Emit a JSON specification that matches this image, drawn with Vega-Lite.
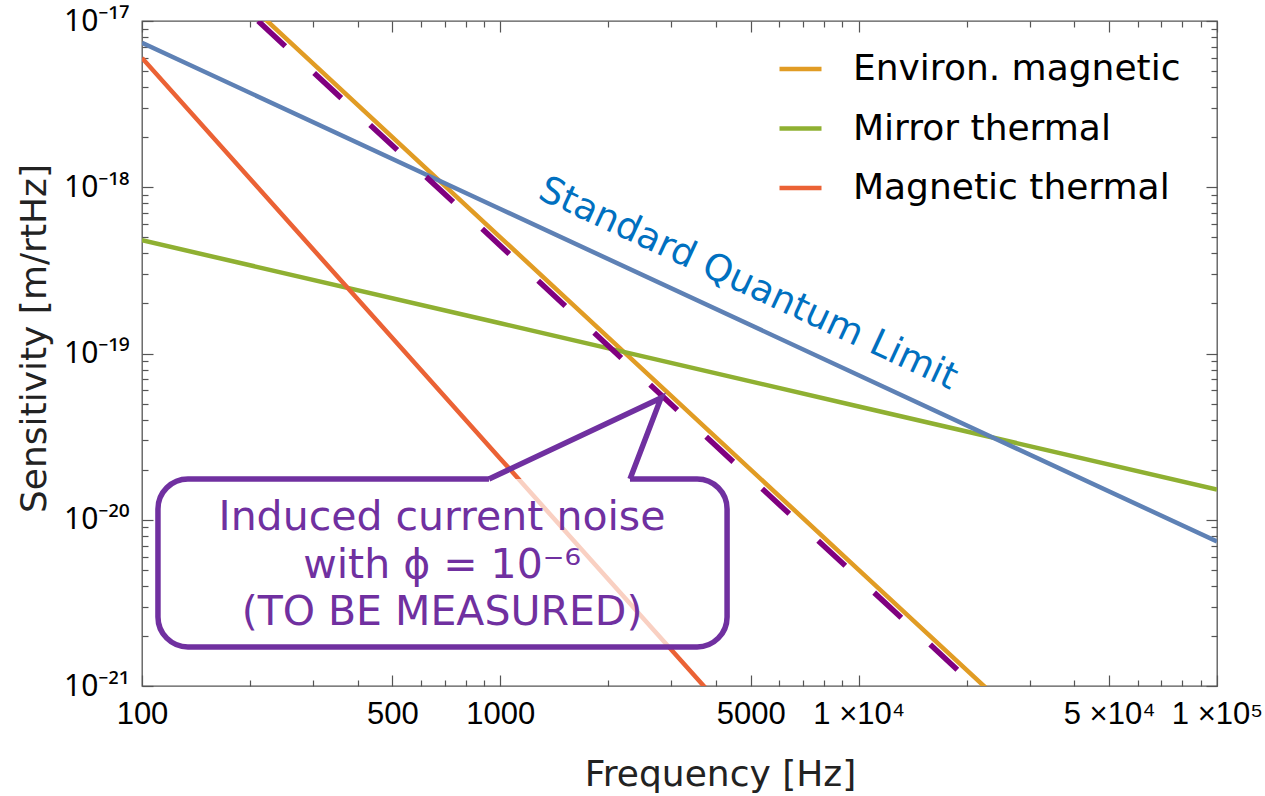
{
  "$schema": "https://vega.github.io/schema/vega-lite/v6.json",
  "width": 1075,
  "height": 665,
  "autosize": {"type": "none"},
  "padding": {"left": 142, "top": 21, "right": 48, "bottom": 110},
  "background": "white",
  "config": {
    "view": {"stroke": "#555555", "strokeWidth": 1.3},
    "axis": {
      "grid": false,
      "domain": false,
      "tickColor": "#555555",
      "tickWidth": 1.2,
      "labelFont": "Liberation Sans",
      "labelFontSize": 31,
      "labelColor": "#000000",
      "titleFont": "DejaVu Sans",
      "titleFontSize": 36,
      "titleFontWeight": "normal",
      "titleColor": "#222222",
      "labelFlush": false,
      "labelOverlap": false
    }
  },
  "datasets": {
    "main": [
      {"series": "Environ. magnetic", "f": 100, "s": 5e-17},
      {"series": "Environ. magnetic", "f": 1000, "s": 5e-19},
      {"series": "Environ. magnetic", "f": 10000, "s": 5e-21},
      {"series": "Environ. magnetic", "f": 100000, "s": 5e-23},
      {"series": "Mirror thermal", "f": 100, "s": 4.8e-19},
      {"series": "Mirror thermal", "f": 1000, "s": 1.52e-19},
      {"series": "Mirror thermal", "f": 10000, "s": 4.8e-20},
      {"series": "Mirror thermal", "f": 100000, "s": 1.52e-20},
      {"series": "Magnetic thermal", "f": 100, "s": 6e-18},
      {"series": "Magnetic thermal", "f": 1000, "s": 2.33e-20},
      {"series": "Magnetic thermal", "f": 10000, "s": 9.1e-23},
      {"series": "Magnetic thermal", "f": 100000, "s": 3.5e-25}
    ],
    "sql": [
      {"f": 100, "s": 7.4e-18},
      {"f": 1000, "s": 7.4e-19},
      {"f": 10000, "s": 7.4e-20},
      {"f": 100000, "s": 7.4e-21}
    ],
    "induced": [
      {"f": 210.9, "s": 1e-17},
      {"f": 1000, "s": 4.45e-19},
      {"f": 10000, "s": 4.45e-21},
      {"f": 21095, "s": 1e-21}
    ],
    "box": [
      {"x1": 110.8, "x2": 4293, "y1": 1.758e-20, "y2": 1.718e-21}
    ],
    "pointer": [
      {"i": 1, "f": 929.8, "s": 1.758e-20},
      {"i": 2, "f": 2808, "s": 5.4e-20},
      {"i": 3, "f": 2301, "s": 1.758e-20}
    ],
    "callout": [
      {"line": "Induced current noise", "f": 687.4, "s": 1.02e-20},
      {"line": "with ϕ = 10⁻⁶", "f": 687.4, "s": 5.3e-21},
      {"line": "(TO BE MEASURED)", "f": 687.4, "s": 2.75e-21}
    ],
    "sqltext": [
      {"label": "Standard Quantum Limit", "f": 4912, "s": 2.62e-19}
    ]
  },
  "resolve": {"axis": {"x": "independent", "y": "independent"}},
  "layer": [
    {
      "data": {"name": "main"},
      "mark": {"type": "line", "clip": true, "strokeWidth": 4.5},
      "encoding": {
        "x": {
          "field": "f", "type": "quantitative",
          "scale": {"type": "log", "domain": [100, 100000], "nice": false},
          "axis": {
            "orient": "bottom",
            "values": [100, 500, 1000, 5000, 10000, 50000, 100000],
            "tickSize": -11,
            "labelPadding": 24,
            "labelExpr": "datum.value < 200 ? '100' : datum.value < 700 ? '500' : datum.value < 2000 ? '1000' : datum.value < 7000 ? '5000' : datum.value < 20000 ? '1 ×10⁴' : datum.value < 70000 ? '5 ×10⁴' : '1 ×10⁵'",
            "title": "Frequency [Hz]",
            "titleX": 578,
            "titleY": 99,
            "titleBaseline": "alphabetic",
            "titleAnchor": "middle"
          }
        },
        "y": {
          "field": "s", "type": "quantitative",
          "scale": {"type": "log", "domain": [1e-21, 1e-17], "nice": false},
          "axis": {
            "orient": "left",
            "values": [1e-21, 1e-20, 1e-19, 1e-18, 1e-17],
            "tickSize": -11,
            "labelPadding": 24,
            "labelFont": "Noto Sans",
            "labelFontSize": 30,
            "labelExpr": "datum.value < 5e-21 ? '10⁻²¹' : datum.value < 5e-20 ? '10⁻²⁰' : datum.value < 5e-19 ? '10⁻¹⁹' : datum.value < 5e-18 ? '10⁻¹⁸' : '10⁻¹⁷'",
            "title": "Sensitivity [m/rtHz]",
            "titleX": -97,
            "titleY": 317,
            "titleAngle": -90,
            "titleBaseline": "alphabetic",
            "titleAnchor": "middle"
          }
        },
        "color": {
          "field": "series", "type": "nominal",
          "scale": {
            "domain": ["Environ. magnetic", "Mirror thermal", "Magnetic thermal"],
            "range": ["#E19C24", "#8FB032", "#EB6235"]
          },
          "legend": {
            "orient": "none",
            "direction": "vertical",
            "legendX": 635,
            "legendY": 24.5,
            "title": null,
            "padding": 0,
            "symbolType": "stroke",
            "symbolSize": 1764,
            "symbolStrokeWidth": 4.5,
            "labelFont": "DejaVu Sans",
            "labelFontSize": 36,
            "labelColor": "#000000",
            "labelOffset": 29,
            "labelLimit": 0,
            "rowPadding": 17.5
          }
        }
      }
    },
    {
      "data": {"name": "sql"},
      "mark": {"type": "line", "clip": true, "strokeWidth": 4.5, "color": "#5E81B5"},
      "encoding": {
        "x": {
          "field": "f", "type": "quantitative",
          "scale": {"type": "log", "domain": [100, 100000], "nice": false},
          "axis": {
            "orient": "bottom",
            "values": [200, 300, 400, 600, 700, 800, 900, 2000, 3000, 4000, 6000, 7000, 8000, 9000, 20000, 30000, 40000, 60000, 70000, 80000, 90000],
            "tickSize": -6, "labels": false, "title": null
          }
        },
        "y": {
          "field": "s", "type": "quantitative",
          "scale": {"type": "log", "domain": [1e-21, 1e-17], "nice": false},
          "axis": {
            "orient": "left",
            "values": [2e-21, 3e-21, 4e-21, 5e-21, 6e-21, 7e-21, 8e-21, 9e-21, 2e-20, 3e-20, 4e-20, 5e-20, 6e-20, 7e-20, 8e-20, 9e-20, 2e-19, 3e-19, 4e-19, 5e-19, 6e-19, 7e-19, 8e-19, 9e-19, 2e-18, 3e-18, 4e-18, 5e-18, 6e-18, 7e-18, 8e-18, 9e-18],
            "tickSize": -6, "labels": false, "title": null
          }
        }
      }
    },
    {
      "data": {"name": "induced"},
      "mark": {"type": "line", "clip": true, "strokeWidth": 5.5, "color": "#800080", "strokeDash": [37, 39.4], "strokeCap": "butt"},
      "encoding": {
        "x": {
          "field": "f", "type": "quantitative",
          "scale": {"type": "log", "domain": [100, 100000], "nice": false},
          "axis": {
            "orient": "top",
            "values": [100, 500, 1000, 5000, 10000, 50000, 100000],
            "tickSize": -11, "labels": false, "title": null
          }
        },
        "y": {
          "field": "s", "type": "quantitative",
          "scale": {"type": "log", "domain": [1e-21, 1e-17], "nice": false},
          "axis": {
            "orient": "right",
            "values": [1e-21, 1e-20, 1e-19, 1e-18, 1e-17],
            "tickSize": -11, "labels": false, "title": null
          }
        }
      }
    },
    {
      "data": {"name": "box"},
      "mark": {"type": "rect", "cornerRadius": 30, "fill": "#FFFFFF", "fillOpacity": 0.7, "stroke": "#7030A0", "strokeWidth": 5.5, "strokeDash": [301, 141, 3000]},
      "encoding": {
        "x": {
          "field": "x1", "type": "quantitative",
          "scale": {"type": "log", "domain": [100, 100000], "nice": false},
          "axis": {
            "orient": "top",
            "values": [200, 300, 400, 600, 700, 800, 900, 2000, 3000, 4000, 6000, 7000, 8000, 9000, 20000, 30000, 40000, 60000, 70000, 80000, 90000],
            "tickSize": -6, "labels": false, "title": null
          }
        },
        "x2": {"field": "x2"},
        "y": {
          "field": "y1", "type": "quantitative",
          "scale": {"type": "log", "domain": [1e-21, 1e-17], "nice": false},
          "axis": {
            "orient": "right",
            "values": [2e-21, 3e-21, 4e-21, 5e-21, 6e-21, 7e-21, 8e-21, 9e-21, 2e-20, 3e-20, 4e-20, 5e-20, 6e-20, 7e-20, 8e-20, 9e-20, 2e-19, 3e-19, 4e-19, 5e-19, 6e-19, 7e-19, 8e-19, 9e-19, 2e-18, 3e-18, 4e-18, 5e-18, 6e-18, 7e-18, 8e-18, 9e-18],
            "tickSize": -6, "labels": false, "title": null
          }
        },
        "y2": {"field": "y2"}
      }
    },
    {
      "data": {"name": "pointer"},
      "mark": {"type": "line", "strokeWidth": 5.5, "color": "#7030A0", "strokeJoin": "miter", "strokeCap": "butt"},
      "encoding": {
        "x": {"field": "f", "type": "quantitative", "scale": {"type": "log", "domain": [100, 100000], "nice": false}, "axis": null},
        "y": {"field": "s", "type": "quantitative", "scale": {"type": "log", "domain": [1e-21, 1e-17], "nice": false}, "axis": null},
        "order": {"field": "i", "type": "quantitative"}
      }
    },
    {
      "data": {"name": "callout"},
      "mark": {"type": "text", "font": "DejaVu Sans", "fontSize": 41, "color": "#7030A0", "align": "center", "baseline": "middle"},
      "encoding": {
        "x": {"field": "f", "type": "quantitative", "scale": {"type": "log", "domain": [100, 100000], "nice": false}, "axis": null},
        "y": {"field": "s", "type": "quantitative", "scale": {"type": "log", "domain": [1e-21, 1e-17], "nice": false}, "axis": null},
        "text": {"field": "line", "type": "nominal"}
      }
    },
    {
      "data": {"name": "sqltext"},
      "mark": {"type": "text", "font": "DejaVu Sans", "fontSize": 37, "color": "#0070C0", "align": "center", "baseline": "middle", "angle": 24.9},
      "encoding": {
        "x": {"field": "f", "type": "quantitative", "scale": {"type": "log", "domain": [100, 100000], "nice": false}, "axis": null},
        "y": {"field": "s", "type": "quantitative", "scale": {"type": "log", "domain": [1e-21, 1e-17], "nice": false}, "axis": null},
        "text": {"field": "label", "type": "nominal"}
      }
    }
  ]
}
